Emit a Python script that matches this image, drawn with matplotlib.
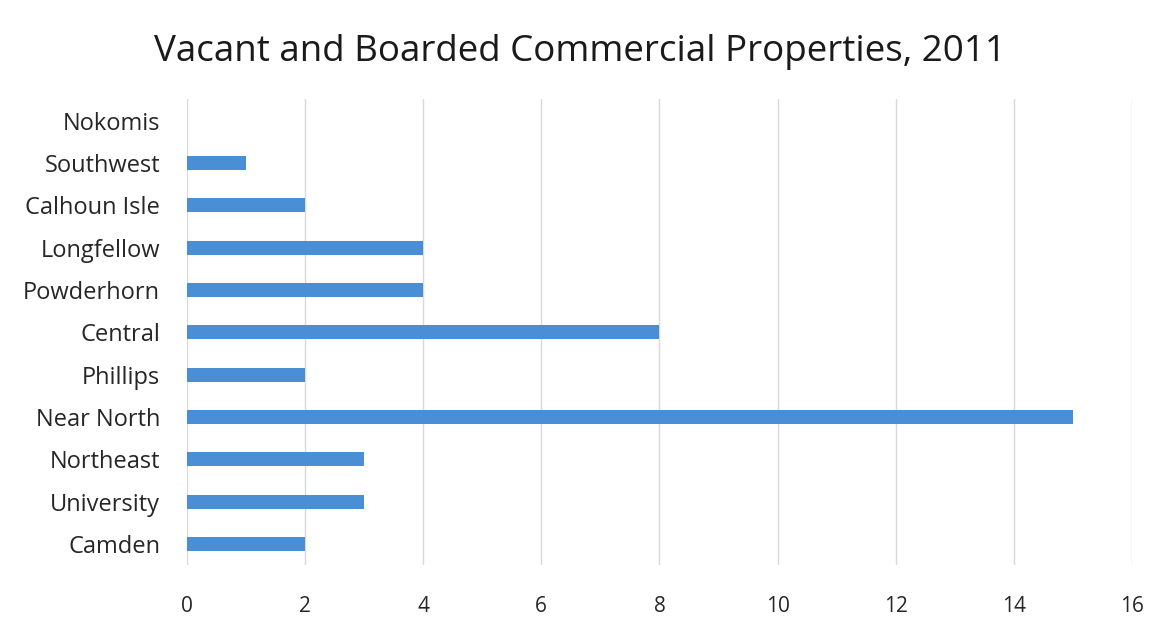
import matplotlib
matplotlib.use("Agg")
import matplotlib.pyplot as plt

plt.rcParams['font.family'] = ['Open Sans', 'DejaVu Sans']

neighborhoods = ["Camden", "University", "Northeast", "Near North", "Phillips",
                 "Central", "Powderhorn", "Longfellow", "Calhoun Isle",
                 "Southwest", "Nokomis"]
properties = [2, 3, 3, 15, 2, 8, 4, 4, 2, 1, 0]
xticks = [0, 2, 4, 6, 8, 10, 12, 14, 16]

fig = plt.figure(figsize=(11.59, 6.21), dpi=100)
ax = fig.add_axes([0.161, 0.09, 0.816, 0.75])

ax.barh(neighborhoods, properties, height=0.33, color="#4a8fd6", zorder=3)

ax.set_xlim(0, 16)
ax.set_ylim(-0.5, len(neighborhoods) - 0.5)
ax.set_xticks(xticks)
ax.set_xticklabels([str(t) for t in xticks])
ax.grid(axis="x", color="#d9d9d9", linewidth=1, zorder=0)
for s in ax.spines.values():
    s.set_visible(False)
ax.tick_params(axis="both", length=0, colors="#262626")
ax.tick_params(axis="x", pad=22, labelsize=15)
ax.tick_params(axis="y", pad=19, labelsize=17)

fig.suptitle("Vacant and Boarded Commercial Properties, 2011", fontsize=26.5,
             color="#1a1a1a", y=0.945)

fig.savefig("out.png", dpi=100)
